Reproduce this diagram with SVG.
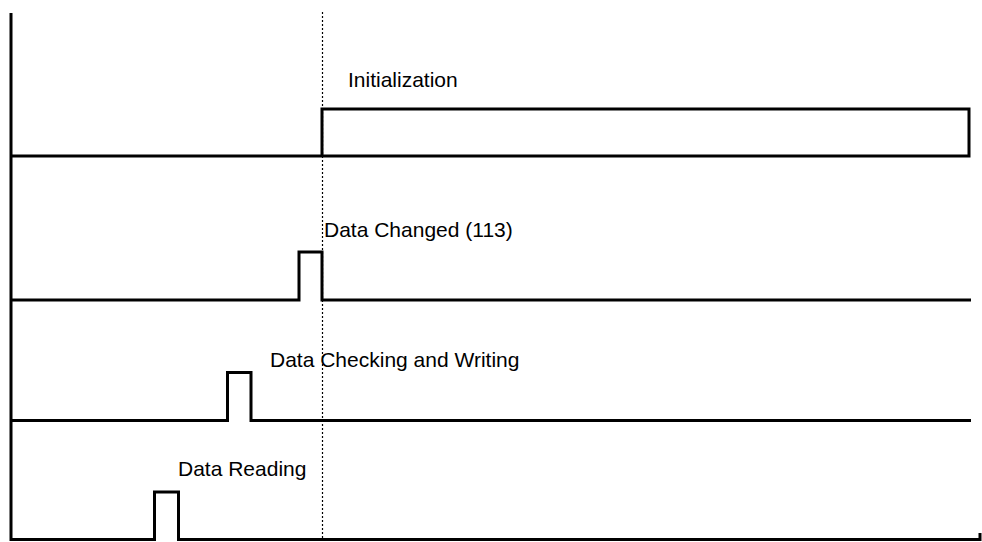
<svg xmlns="http://www.w3.org/2000/svg" width="982" height="542" viewBox="0 0 982 542">
<style>
.ln{fill:none;stroke:#000;stroke-width:3;stroke-linecap:butt;stroke-linejoin:miter}
.dot{fill:none;stroke:#000;stroke-width:1.2;stroke-dasharray:2 2}
.lbl{font-family:"Liberation Sans",Arial,sans-serif;font-size:21px;fill:#000}
</style>
<rect width="982" height="542" fill="#fff"/>
<g id="axes">
<line class="ln" x1="11" y1="13" x2="11" y2="541"/>
<line class="dot" x1="322.5" y1="12" x2="322.5" y2="540"/>
</g>
<g id="connectors">
<polyline class="ln" points="11,156 322,156 322,109 969,109 969,156 322,156"/>
<polyline class="ln" points="11,300 299,300 299,252 322,252 322,300 971,300"/>
<polyline class="ln" points="11,420.5 227.5,420.5 227.5,372.5 251,372.5 251,420.5 971,420.5"/>
<polyline class="ln" points="11,539.5 154.5,539.5 154.5,492 178.5,492 178.5,539.5 980,539.5 980,533"/>
</g>
<g id="initialization"><text class="lbl" x="348" y="87">Initialization</text></g>
<g id="data-changed"><text class="lbl" x="324" y="237">Data Changed (113)</text></g>
<g id="data-checking"><text class="lbl" x="270" y="367">Data Checking and Writing</text></g>
<g id="data-reading"><text class="lbl" x="178" y="476">Data Reading</text></g>
</svg>
